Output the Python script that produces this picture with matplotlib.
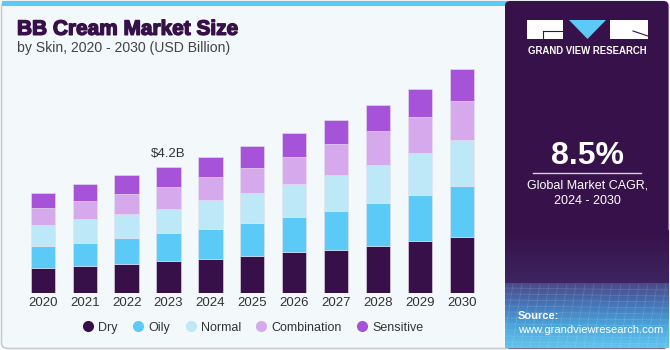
import numpy as np
import matplotlib.pyplot as plt
import matplotlib.patheffects as pe
from matplotlib.patches import FancyBboxPatch, Rectangle, Polygon
from matplotlib.lines import Line2D

plt.rcParams['font.family'] = ['Liberation Sans', 'DejaVu Sans']

years = ['2020', '2021', '2022', '2023', '2024', '2025', '2026', '2027', '2028', '2029', '2030']
dry = [0.83, 0.90, 0.99, 1.07, 1.14, 1.24, 1.37, 1.44, 1.57, 1.74, 1.88]
oily = [0.74, 0.79, 0.85, 0.95, 1.00, 1.10, 1.19, 1.32, 1.43, 1.54, 1.70]
normal = [0.70, 0.78, 0.81, 0.79, 0.98, 1.02, 1.10, 1.20, 1.29, 1.40, 1.53]
combination = [0.56, 0.62, 0.66, 0.74, 0.76, 0.83, 0.90, 1.03, 1.11, 1.20, 1.31]
sensitive = [0.52, 0.55, 0.63, 0.65, 0.67, 0.72, 0.78, 0.80, 0.87, 0.93, 1.05]
series = [('Dry', dry), ('Oily', oily), ('Normal', normal),
          ('Combination', combination), ('Sensitive', sensitive)]
colors = ['#37104a', '#5ccaf6', '#bde8f8', '#d5a9ec', '#a653d9']
label_year = '2023'
label_text = '$4.2B'

W, H = 670, 350
fig = plt.figure(figsize=(W / 100, H / 100), dpi=100)
fig.patch.set_facecolor('white')

# background card, drawn in pixel units (y down)
bg = fig.add_axes([0, 0, 1, 1])
bg.set_xlim(0, W)
bg.set_ylim(H, 0)
bg.axis('off')
bg.add_patch(FancyBboxPatch((1.5, 1.5), W - 3, H - 3, boxstyle='round,pad=0,rounding_size=6',
                            fc='#f3f8fb', ec='#c8ccd0', lw=1.2))
bg.add_patch(Rectangle((2, 1), 505, 4.5, fc='#5ccaf6', ec='none'))

# right panel
px0 = 505
bg.add_patch(FancyBboxPatch((px0, 1), W - px0 - 1.5, H - 2.5, boxstyle='round,pad=0,rounding_size=5',
                            fc='#371149', ec='none'))
cm = plt.matplotlib.colors.LinearSegmentedColormap
g1 = cm.from_list('g1', ['#371149', '#3d2560'])
bg.imshow(np.linspace(0, 1, 40)[:, None], extent=(px0, W - 1.5, 283, 230), cmap=g1,
          aspect='auto', zorder=1)
g2 = cm.from_list('g2', ['#4a4a88', '#4576b8', '#4aa6dc', '#62c4ee'])
bg.imshow(np.linspace(0, 1, 80)[:, None], extent=(px0, W - 1.5, H - 2, 283), cmap=g2,
          aspect='auto', zorder=1)
for yy in np.arange(288, 348, 6):
    bg.plot([px0, W - 2], [yy, yy + 2], color='white', alpha=0.15, lw=0.5, zorder=2)
for xx in np.arange(px0 - 20, W, 9):
    bg.plot([xx + 10, xx], [284, 348], color='white', alpha=0.15, lw=0.5, zorder=2)

# logo
bg.add_patch(Rectangle((527, 20), 36, 19, fc='white', ec='none', zorder=3))
bg.add_patch(Polygon([(569, 20), (606, 20), (587.5, 39)], fc='#5ccaf6', ec='none', zorder=3))
bg.add_patch(Rectangle((610, 20), 38, 19, fc='white', ec='none', zorder=3))
bg.plot([543, 563], [31, 31], color='#371149', lw=0.8, zorder=4)
bg.plot([543, 543], [31, 39], color='#371149', lw=0.8, zorder=4)
bg.plot([633, 648], [31, 36], color='#371149', lw=0.8, zorder=4)
bg.text(587.5, 50.7, 'GRAND VIEW RESEARCH', color='white', fontsize=6.9, fontweight='bold',
        ha='center', va='center', zorder=4)
bg.text(587.5, 156, '8.5%', color='white', fontsize=23, fontweight='bold',
        ha='center', va='center', zorder=4)
bg.plot([533, 641], [173.3, 173.3], color='#d8d0e0', lw=1, zorder=4)
bg.text(587.5, 185.5, 'Global Market CAGR,', color='white', fontsize=9, ha='center', va='center', zorder=4)
bg.text(587.5, 201, '2024 - 2030', color='white', fontsize=9, ha='center', va='center', zorder=4)
bg.text(518, 316, 'Source:', color='white', fontsize=8, fontweight='bold', ha='left', va='center', zorder=4)
bg.text(518, 330, 'www.grandviewresearch.com', color='white', fontsize=8, ha='left', va='center', zorder=4)

# titles
bg.text(17, 29.3, 'BB Cream Market Size', color='#37104a', fontsize=15, fontweight='bold',
        ha='left', va='center',
        path_effects=[pe.withStroke(linewidth=1.0, foreground='#37104a')])
bg.text(17, 48, 'by Skin, 2020 - 2030 (USD Billion)', color='#444444', fontsize=10.1,
        ha='left', va='center')

# chart
base_px = 293.3
top_px = 60
ax = fig.add_axes([0, (H - base_px) / H, 505 / W, (base_px - top_px) / H])
ax.set_facecolor('none')
x = np.arange(len(years))
bottom = np.zeros(len(years))
for (name, vals), c in zip(series, colors):
    ax.bar(x, vals, width=0.58, bottom=bottom, color=c, edgecolor='#e6e0ee', linewidth=0.4,
           label=name)
    bottom += np.array(vals)
i = years.index(label_year)
ax.text(x[i], bottom[i] + 0.25, label_text, ha='center', va='bottom', fontsize=9.5, color='#333333')

ax.set_xlim(-1.02, 11.03)
ax.set_ylim(0, (base_px - top_px) / 30.0)
for s in ax.spines.values():
    s.set_visible(False)
ax.set_yticks([])
ax.set_xticks(x)
ax.set_xticklabels(years, fontsize=9.5, color='#333333')
ax.tick_params(axis='x', length=0, pad=3)

handles = [Line2D([], [], marker='o', ls='none', markersize=8, markerfacecolor=c,
                  markeredgecolor='none') for c in colors]
fig.legend(handles, [n for n, _ in series], loc='center', bbox_to_anchor=(252 / W, 1 - 327.7 / H),
           ncol=5, frameon=False, fontsize=9, handletextpad=0.2, columnspacing=1.05,
           handlelength=1.2, labelcolor='#333333')

fig.savefig('out.png', dpi=100)
